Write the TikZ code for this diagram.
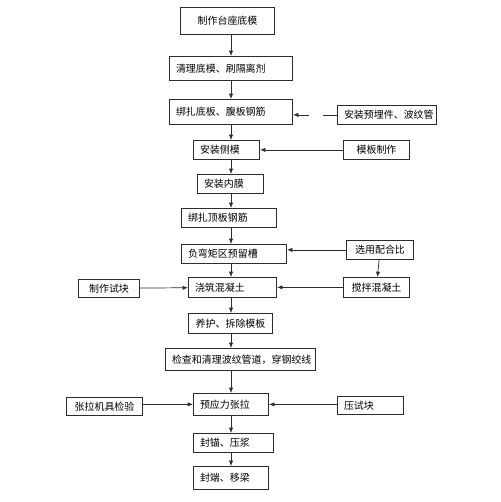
\documentclass[tikz,border=0pt]{standalone}
\usepackage{fontspec}
\usepackage{tikz}
\usetikzlibrary{arrows.meta, positioning, calc}
\newfontfamily\cjk{Noto Sans CJK SC}
\definecolor{linegray}{RGB}{45, 45, 45}

\begin{document}
\begin{tikzpicture}[
  x=0.03cm, y=-0.03cm,
  every node/.style={font=\cjk\fontsize{8.5}{10}\selectfont},
  box/.style={
    draw=linegray, line width=0.6pt, anchor=north west,
    inner xsep=0.2cm, inner ysep=0pt, align=left,
    minimum height=0.57cm
  },
  arrow/.style={-{Latex[length=1.6mm, width=1.3mm]}, line width=0.6pt, color=linegray}
]
  \useasboundingbox (0,0) rectangle (500,502);

  % 主线（中间一列）
  \node[box, text width=2.43cm, align=center, minimum height=0.81cm] (dimo) at (180,7) {制作台座底模};
  \node[box, text width=3.3cm, minimum height=0.72cm] (qingli) at (169,56) {清理底模、刷隔离剂};
  \node[box, text width=3.3cm, minimum height=0.75cm] (fuban) at (169,99) {绑扎底板、腹板钢筋};
  \node[box, text width=1.59cm] (cemo) at (193,140) {安装侧模};
  \node[box, text width=1.59cm] (neimo) at (197,174) {安装内膜};
  \node[box, text width=2.46cm] (dingban) at (181,208) {绑扎顶板钢筋};
  \node[box, text width=2.76cm] (yuliu) at (181,244) {负弯矩区预留槽};
  \node[box, text width=2.25cm, minimum height=0.6cm] (jiaozhu) at (188,277) {浇筑混凝土};
  \node[box, text width=2.13cm, align=center, minimum height=0.6cm] (yanghu) at (188,313) {养护、拆除模板};
  \node[box, text width=4.11cm, align=center, minimum height=0.66cm] (jiancha) at (165,348) {检查和清理波纹管道，穿钢绞线};
  \node[box, text width=1.86cm, minimum height=0.66cm] (zhangla) at (193,393) {预应力张拉};
  \node[box, text width=2.01cm] (fengmao) at (193,433) {封锚、压浆};
  \node[box, text width=1.86cm, minimum height=0.69cm] (yiliang) at (193,466) {封端、移梁};

  % 右侧
  \node[box, text width=2.58cm, align=center] (maijian) at (337,105) {安装预埋件、波纹管};
  \node[box, text width=1.59cm, align=center] (muban) at (343,140) {模板制作};
  \node[box, text width=1.62cm, align=center] (peihe) at (346,240) {选用配合比};
  \node[box, text width=1.59cm, align=center, minimum height=0.6cm] (jiaoban) at (343,277) {搅拌混凝土};
  \node[box, text width=1.59cm, minimum height=0.54cm] (yashikuai) at (337,396) {压试块};

  % 左侧
  \node[box, text width=1.44cm, align=center, minimum height=0.54cm] (shikuai) at (78,279) {制作试块};
  \node[box, text width=1.89cm, align=center, minimum height=0.54cm] (jiju) at (66,397) {张拉机具检验};

  % 主线箭头
  \coordinate (axis) at (231,0);
  \foreach \a/\b in {dimo/qingli, qingli/fuban, fuban/cemo, cemo/neimo, neimo/dingban,
                     dingban/yuliu, yuliu/jiaozhu, jiaozhu/yanghu, yanghu/jiancha,
                     jiancha/zhangla, zhangla/fengmao, fengmao/yiliang}
    \draw[arrow] (\a.south -| axis) -- (\b.north -| axis);

  % 侧向箭头
  \draw[arrow, dash pattern=on 11.9pt off 11.9pt on 40pt] (maijian.west) -- (maijian.west -| fuban.east);
  \draw[arrow] (muban) -- (cemo);
  \draw[arrow] (peihe.west) -- (peihe.west -| yuliu.east);
  \draw[arrow] (peihe) -- (jiaoban);
  \draw[arrow] (jiaoban) -- (jiaozhu);
  \draw[arrow] (shikuai) -- (jiaozhu);
  \draw[arrow] (zhangla.west -| jiju.east) -- (zhangla.west);
  \draw[arrow] (zhangla.east -| yashikuai.west) -- (zhangla.east);

\end{tikzpicture}
\end{document}
